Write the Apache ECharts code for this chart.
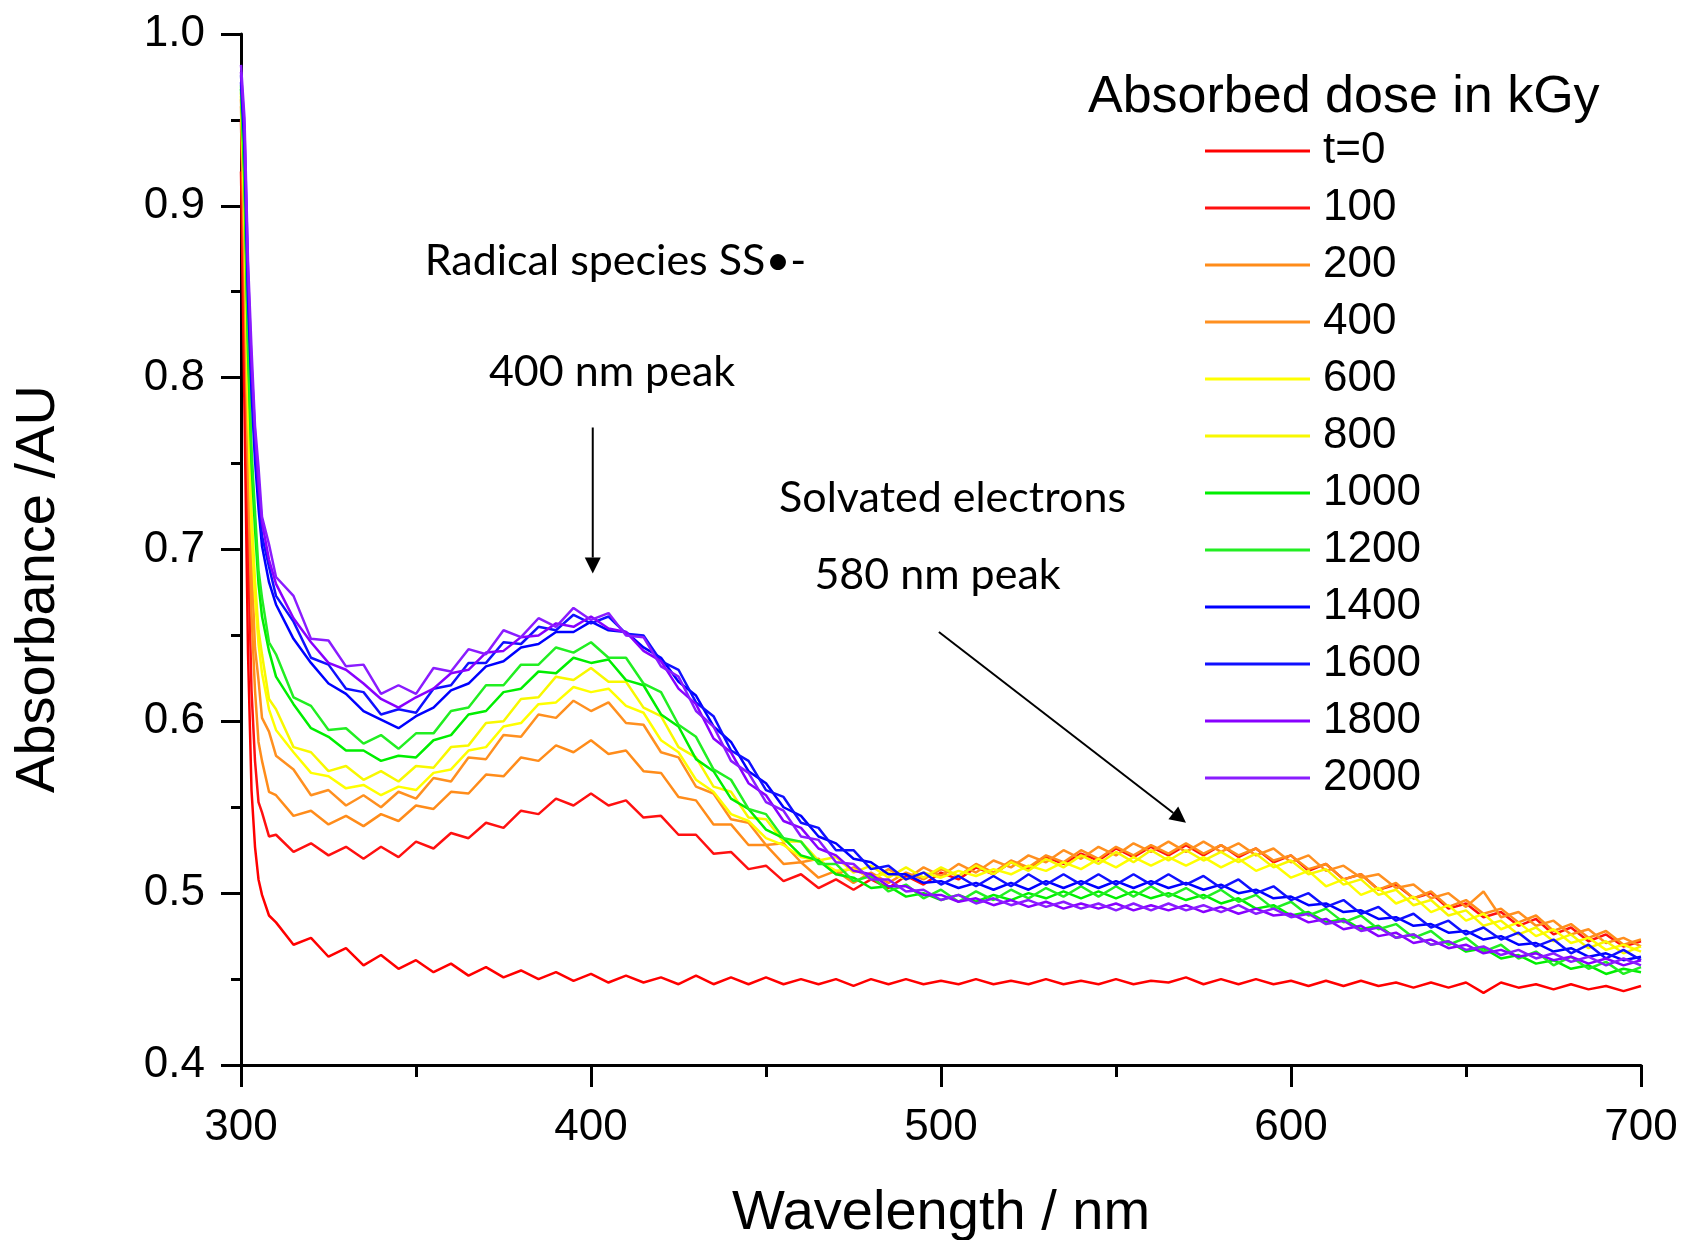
<!DOCTYPE html>
<html><head><meta charset="utf-8">
<script src="https://cdn.jsdelivr.net/npm/echarts@6/dist/echarts.min.js"></script>
<style>html,body{margin:0;padding:0;background:#fff}#c{width:1686px;height:1240px}</style>
</head><body><div id="c"></div>
<script>
// ---------------- data ----------------
const wavelengths = [300,301,302,303,304,305,306,308,310,315,320,325,330,335,340,345,350,355,360,365,370,375,380,385,390,395,400,405,410,415,420,425,430,435,440,445,450,455,460,465,470,475,480,485,490,495,500,505,510,515,520,525,530,535,540,545,550,555,560,565,570,575,580,585,590,595,600,605,610,615,620,625,630,635,640,645,650,655,660,665,670,675,680,685,690,695,700];

const dose_t0 = [.920,.780,.640,.560,.527,.508,.499,.487,.483,
.470,.474,.463,.468,.458,.464,.456,.461,.454,.459,
.452,.457,.451,.455,.450,.454,.449,.453,.448,.452,
.448,.451,.447,.452,.447,.451,.447,.451,.447,.450,
.447,.450,.446,.450,.447,.450,.447,.449,.447,.450,
.447,.449,.447,.450,.447,.449,.447,.450,.447,.449,
.448,.451,.447,.450,.447,.450,.447,.449,.446,.449,
.446,.449,.446,.448,.445,.448,.445,.448,.442,.448,
.445,.447,.444,.447,.444,.446,.443,.446];

const dose_100 = [.950,.828,.702,.618,.577,.553,.547,.533,.534,
.524,.529,.522,.527,.520,.527,.521,.530,.526,.535,
.532,.541,.538,.548,.546,.555,.551,.558,.551,.554,
.544,.545,.534,.534,.523,.524,.514,.516,.507,.511,
.503,.508,.502,.508,.503,.510,.505,.512,.508,.515,
.511,.518,.514,.521,.517,.523,.519,.526,.521,.527,
.522,.528,.522,.528,.521,.526,.518,.522,.513,.517,
.508,.511,.502,.505,.497,.500,.491,.494,.486,.489,
.481,.485,.476,.480,.472,.476,.469,.472];

const dose_200 = [.958,.862,.742,.662,.618,.588,.577,.559,.557,
.545,.548,.540,.545,.539,.546,.542,.551,.549,.559,
.558,.569,.568,.579,.577,.586,.582,.589,.581,.583,
.571,.570,.556,.554,.540,.540,.528,.528,.517,.518,
.509,.513,.506,.512,.506,.512,.508,.514,.510,.517,
.512,.519,.515,.522,.518,.525,.520,.527,.522,.528,
.523,.529,.523,.528,.522,.526,.519,.522,.514,.517,
.508,.511,.502,.506,.497,.501,.492,.496,.488,.491,
.483,.487,.478,.482,.474,.478,.470,.473];

const dose_400 = [.962,.882,.762,.693,.643,.624,.602,.594,.580,
.572,.557,.560,.551,.557,.550,.559,.555,.567,.565,
.579,.578,.592,.591,.604,.602,.612,.606,.611,.599,
.598,.582,.579,.562,.558,.543,.541,.528,.529,.518,
.520,.511,.515,.508,.514,.508,.515,.510,.517,.512,
.519,.515,.522,.518,.525,.520,.527,.522,.529,.524,
.530,.524,.530,.524,.529,.522,.526,.518,.522,.513,
.516,.509,.511,.503,.505,.497,.500,.492,.501,.486,
.489,.481,.484,.476,.479,.471,.474,.469];

const dose_600 = [.964,.895,.784,.713,.672,.645,.628,.607,.595,
.582,.570,.568,.561,.563,.557,.562,.560,.570,.572,
.583,.585,.597,.599,.610,.611,.620,.617,.619,.609,
.605,.589,.582,.566,.559,.546,.542,.532,.528,.521,
.519,.513,.514,.509,.512,.508,.512,.509,.513,.510,
.514,.511,.516,.513,.518,.514,.520,.515,.521,.516,
.521,.516,.521,.515,.520,.513,.517,.509,.513,.504,
.508,.499,.503,.494,.498,.489,.493,.484,.488,.479,
.483,.475,.479,.471,.474,.467,.470,.466];

const dose_800 = [.966,.902,.792,.722,.682,.653,.639,.613,.607,
.585,.582,.571,.574,.566,.571,.565,.574,.573,.585,
.586,.599,.600,.613,.614,.626,.624,.631,.623,.623,
.608,.603,.585,.579,.562,.559,.544,.543,.530,.530,
.519,.521,.512,.516,.509,.515,.509,.515,.510,.516,
.511,.518,.513,.520,.515,.522,.517,.524,.518,.525,
.519,.525,.519,.524,.518,.523,.515,.519,.511,.514,
.505,.508,.499,.502,.493,.496,.487,.490,.481,.484,
.476,.480,.472,.476,.468,.472,.465,.469];

const dose_1000 = [.968,.912,.815,.750,.712,.680,.661,.641,.626,
.610,.596,.591,.583,.583,.577,.580,.579,.589,.592,
.604,.606,.617,.619,.629,.628,.637,.634,.636,.624,
.621,.604,.597,.578,.571,.555,.549,.537,.532,.522,
.519,.511,.509,.503,.504,.498,.500,.496,.499,.495,
.499,.496,.500,.497,.501,.497,.501,.497,.501,.497,
.500,.496,.499,.494,.497,.491,.493,.487,.489,.483,
.485,.479,.481,.474,.476,.470,.472,.466,.468,.462,
.464,.459,.461,.456,.458,.453,.456,.454];

const dose_1200 = [.970,.918,.823,.758,.722,.688,.672,.646,.639,
.614,.609,.595,.596,.587,.592,.584,.593,.593,.606,
.608,.621,.621,.633,.633,.643,.640,.646,.637,.637,
.622,.617,.598,.591,.572,.566,.549,.546,.532,.530,
.517,.517,.507,.510,.501,.505,.497,.502,.495,.501,
.496,.502,.497,.503,.498,.504,.498,.504,.498,.504,
.498,.503,.497,.502,.495,.499,.491,.495,.487,.491,
.483,.487,.479,.482,.474,.478,.470,.474,.466,.470,
.462,.466,.458,.463,.456,.460,.453,.457];

const dose_1400 = [.972,.934,.846,.792,.752,.724,.702,.681,.668,
.648,.634,.622,.616,.606,.601,.596,.603,.608,.618,
.622,.632,.635,.643,.645,.652,.652,.658,.653,.652,
.643,.637,.623,.615,.597,.588,.571,.564,.550,.545,
.533,.529,.520,.518,.511,.511,.506,.507,.503,.506,
.502,.506,.502,.507,.503,.507,.503,.507,.503,.507,
.503,.506,.502,.505,.500,.502,.497,.498,.493,.494,
.489,.490,.485,.486,.481,.482,.477,.478,.473,.475,
.470,.471,.466,.468,.463,.465,.461,.463];

const dose_1600 = [.976,.940,.853,.801,.758,.732,.708,.690,.673,
.658,.637,.633,.619,.617,.604,.607,.605,.619,.621,
.634,.634,.646,.645,.655,.653,.662,.657,.661,.651,
.650,.635,.630,.611,.603,.583,.577,.560,.556,.541,
.538,.525,.525,.514,.516,.508,.512,.505,.510,.504,
.510,.504,.511,.505,.511,.505,.511,.505,.511,.505,
.511,.505,.510,.503,.508,.500,.504,.496,.500,.492,
.496,.488,.492,.484,.488,.480,.484,.476,.480,.473,
.477,.469,.473,.465,.470,.462,.467,.461];

const dose_1800 = [.978,.945,.862,.808,.768,.738,.716,.694,.680,
.660,.646,.634,.630,.622,.613,.608,.614,.619,.628,
.630,.640,.641,.649,.650,.657,.655,.661,.654,.652,
.641,.635,.619,.610,.590,.582,.564,.557,.542,.538,
.526,.522,.513,.511,.504,.504,.499,.499,.495,.497,
.493,.496,.492,.495,.491,.494,.491,.494,.490,.493,
.490,.493,.489,.492,.488,.491,.487,.488,.483,.485,
.479,.481,.475,.477,.471,.473,.468,.470,.465,.467,
.463,.465,.461,.463,.459,.462,.458,.461];

const dose_2000 = [.982,.951,.868,.817,.772,.748,.719,.703,.684,
.673,.648,.647,.632,.633,.616,.621,.616,.631,.629,
.642,.639,.653,.649,.660,.655,.666,.659,.663,.650,
.649,.632,.626,.606,.597,.577,.570,.553,.548,.533,
.531,.518,.517,.508,.508,.501,.502,.496,.499,.494,
.497,.493,.496,.492,.495,.491,.494,.490,.494,.490,
.494,.490,.493,.489,.493,.488,.491,.486,.488,.482,
.484,.478,.480,.474,.476,.470,.472,.467,.469,.464,
.467,.462,.465,.460,.463,.458,.462,.458];

const seriesNames = ['t=0','100','200','400','600','800','1000','1200','1400','1600','1800','2000'];
const seriesValues = [dose_t0,dose_100,dose_200,dose_400,dose_600,dose_800,dose_1000,dose_1200,dose_1400,dose_1600,dose_1800,dose_2000];
const seriesColors = ['#ff0000','#ff1010','#ff8c1a','#ff9020','#ffff00','#f8f800','#00ee00','#22ee22','#0000ff','#1010ff','#8800ff','#8a1cff'];

const xTickValues = [300,400,500,600,700];
const yTickValues = [0.4,0.5,0.6,0.7,0.8,0.9,1.0];

// annotation anchors in data coordinates [wavelength, absorbance]
const annotationTexts = [
  {text:'Radical species SS\u2022-', at:[407,0.868]},
  {text:'400 nm peak', at:[406,0.803]},
  {text:'Solvated electrons', at:[503.3,0.730]},
  {text:'580 nm peak', at:[499,0.685]}
];
const annotationArrows = [
  {from:[400.5,0.771], to:[400.5,0.686]},
  {from:[499.4,0.652], to:[570,0.541]}
];

// ---------------- chart ----------------
const chart = echarts.init(document.getElementById('c'), null, {renderer:'canvas'});
const FONT = 'Liberation Sans, Arial, sans-serif';
const axisCommon = {
  type:'value',
  splitLine:{show:false},
  axisLine:{show:true, onZero:false, lineStyle:{color:'#000', width:3}},
  axisTick:{show:true, inside:false, lineStyle:{color:'#000', width:3}},
  minorTick:{show:true, splitNumber:2, lineStyle:{color:'#000', width:3}},
  minorSplitLine:{show:false}
};
const option = {
  animation:false,
  backgroundColor:'#ffffff',
  grid:{left:241, right:45, top:34, bottom:175, containLabel:false},
  xAxis: Object.assign({}, axisCommon, {
    min:xTickValues[0], max:xTickValues[xTickValues.length-1], interval:100,
    axisTick:Object.assign({}, axisCommon.axisTick, {length:22}),
    minorTick:Object.assign({}, axisCommon.minorTick, {length:12}),
    axisLabel:{fontSize:44, color:'#000', fontFamily:FONT, margin:41}
  }),
  yAxis: Object.assign({}, axisCommon, {
    min:yTickValues[0], max:yTickValues[yTickValues.length-1], interval:0.1,
    axisTick:Object.assign({}, axisCommon.axisTick, {length:20}),
    minorTick:Object.assign({}, axisCommon.minorTick, {length:10}),
    axisLabel:{fontSize:44, color:'#000', fontFamily:FONT, margin:36, formatter:v=>v.toFixed(1)}
  }),
  legend:{
    orient:'vertical', left:1200, top:124, itemWidth:105, itemHeight:3, itemGap:13,
    icon:'rect', selectedMode:false,
    textStyle:{fontSize:44, color:'#000', fontFamily:FONT, padding:[0,0,0,8]},
    data:seriesNames
  },
  series: seriesNames.map((name,k)=>({
    name, type:'line', showSymbol:false, symbol:'none', smooth:false,
    color:seriesColors[k],
    lineStyle:{width:2.5, color:seriesColors[k]},
    data: wavelengths.map((w,i)=>[w, seriesValues[k][i]])
  }))
};
chart.setOption(option);

// annotations placed through the chart's own coordinate system
const toPx = p => chart.convertToPixel({gridIndex:0}, p);
const graphics = [];
annotationTexts.forEach(a=>{
  const p = toPx(a.at);
  graphics.push({type:'text', x:p[0], y:p[1], z:100,
    style:{text:a.text, fill:'#000', fontSize:43, fontFamily:'Lato, Carlito, sans-serif', align:'center', verticalAlign:'middle'}});
});
annotationArrows.forEach(a=>{
  const p0 = toPx(a.from), p1 = toPx(a.to);
  const dx = p1[0]-p0[0], dy = p1[1]-p0[1], len = Math.hypot(dx,dy);
  const ux = dx/len, uy = dy/len, L = 16, W = 8;
  const bx = p1[0]-ux*L, by = p1[1]-uy*L;
  graphics.push({type:'line', z:100, shape:{x1:p0[0], y1:p0[1], x2:bx, y2:by}, style:{stroke:'#000', lineWidth:2}});
  graphics.push({type:'polygon', z:100, shape:{points:[[p1[0],p1[1]],[bx-uy*W,by+ux*W],[bx+uy*W,by-ux*W]]}, style:{fill:'#000'}});
});
// axis names and legend title
graphics.push({type:'text', x:941, y:1214, style:{text:'Wavelength / nm', fill:'#000', fontSize:56, fontFamily:FONT, align:'center', verticalAlign:'middle'}});
graphics.push({type:'text', x:39, y:589, rotation:Math.PI/2, style:{text:'Absorbance /AU', fill:'#000', fontSize:56, fontFamily:FONT, align:'center', verticalAlign:'middle'}});
graphics.push({type:'text', x:1088, y:98, style:{text:'Absorbed dose in kGy', fill:'#000', fontSize:52, fontFamily:FONT, align:'left', verticalAlign:'middle'}});
chart.setOption({graphic:graphics});
</script></body></html>
